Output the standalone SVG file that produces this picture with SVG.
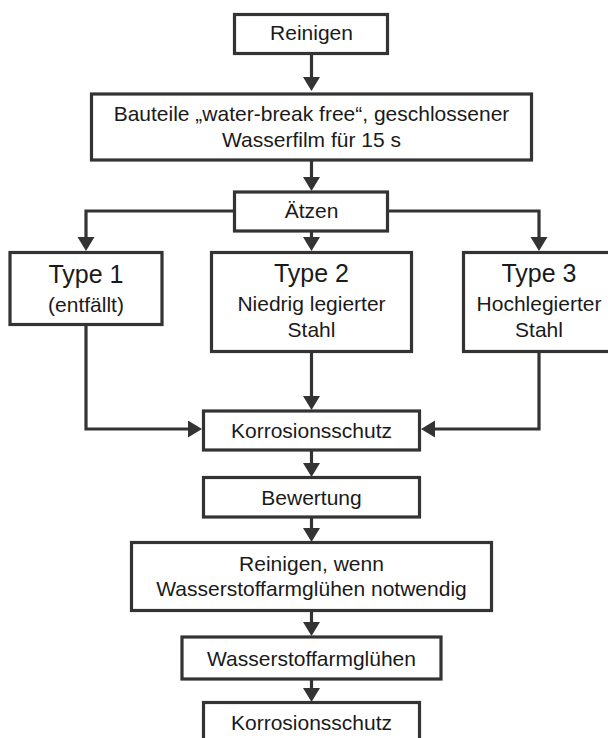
<svg xmlns="http://www.w3.org/2000/svg" width="608" height="738" viewBox="0 0 608 738">
<style>
.box{fill:#fff;stroke:#333;stroke-width:3.2}
.t{font-family:"Liberation Sans",Arial,Helvetica,sans-serif;font-size:21px;fill:#1a1a1a;text-anchor:middle}
.h{font-size:25px}
.c{fill:none;stroke:#333;stroke-width:3.2;marker-end:url(#ah)}
</style>
<defs>
<marker id="ah" markerUnits="userSpaceOnUse" markerWidth="16" markerHeight="18" refX="7" refY="8.5" orient="auto">
<path d="M0,0 L14,8.5 L0,17 z" fill="#333"/>
</marker>
</defs>
<rect width="608" height="738" fill="#fff"/>
<g id="connectors">
<path class="c" d="M311.5,55 V84"/>
<path class="c" d="M311.5,161 V184"/>
<path class="c" d="M311.5,232 V244"/>
<path class="c" d="M234,211 H86 V244"/>
<path class="c" d="M388,211 H539 V244"/>
<path class="c" d="M86,325 V429 H195"/>
<path class="c" d="M311.5,352 V403"/>
<path class="c" d="M539,352 V429 H428"/>
<path class="c" d="M311.5,451 V470"/>
<path class="c" d="M311.5,518 V535"/>
<path class="c" d="M311.5,611 V629"/>
<path class="c" d="M311.5,680 V695"/>
</g>
<g id="n1">
<rect class="box" x="234.5" y="14.5" width="153" height="39"/>
<text class="t" x="311.5" y="40">Reinigen</text>
</g>
<g id="n2">
<rect class="box" x="91.5" y="94" width="440" height="66"/>
<text class="t" x="311.5" y="121">Bauteile „water-break free“, geschlossener</text>
<text class="t" x="311.5" y="147">Wasserfilm für 15 s</text>
</g>
<g id="n3">
<rect class="box" x="234.5" y="192" width="153" height="39"/>
<text class="t" x="311.5" y="218">Ätzen</text>
</g>
<g id="n4">
<rect class="box" x="10" y="252.5" width="152" height="72"/>
<text class="t h" x="86" y="283">Type 1</text>
<text class="t" x="86" y="311.5">(entfällt)</text>
</g>
<g id="n5">
<rect class="box" x="211.5" y="252.5" width="200" height="99"/>
<text class="t h" x="311.5" y="282">Type 2</text>
<text class="t" x="311.5" y="311">Niedrig legierter</text>
<text class="t" x="311.5" y="337">Stahl</text>
</g>
<g id="n6">
<rect class="box" x="463.5" y="252.5" width="152" height="99"/>
<text class="t h" x="539" y="282">Type 3</text>
<text class="t" x="539" y="311">Hochlegierter</text>
<text class="t" x="539" y="337">Stahl</text>
</g>
<g id="n7">
<rect class="box" x="203.5" y="411" width="216" height="39"/>
<text class="t" x="311.5" y="437.5">Korrosionsschutz</text>
</g>
<g id="n8">
<rect class="box" x="203.5" y="477.5" width="216" height="39.5"/>
<text class="t" x="311.5" y="505">Bewertung</text>
</g>
<g id="n9">
<rect class="box" x="131.5" y="542.5" width="360" height="68"/>
<text class="t" x="311.5" y="571">Reinigen, wenn</text>
<text class="t" x="311.5" y="596">Wasserstoffarmglühen notwendig</text>
</g>
<g id="n10">
<rect class="box" x="182" y="637" width="259" height="42"/>
<text class="t" x="311.5" y="665.5">Wasserstoffarmglühen</text>
</g>
<g id="n11">
<rect class="box" x="203.5" y="702.5" width="216" height="40"/>
<text class="t" x="311.5" y="730">Korrosionsschutz</text>
</g>
</svg>
